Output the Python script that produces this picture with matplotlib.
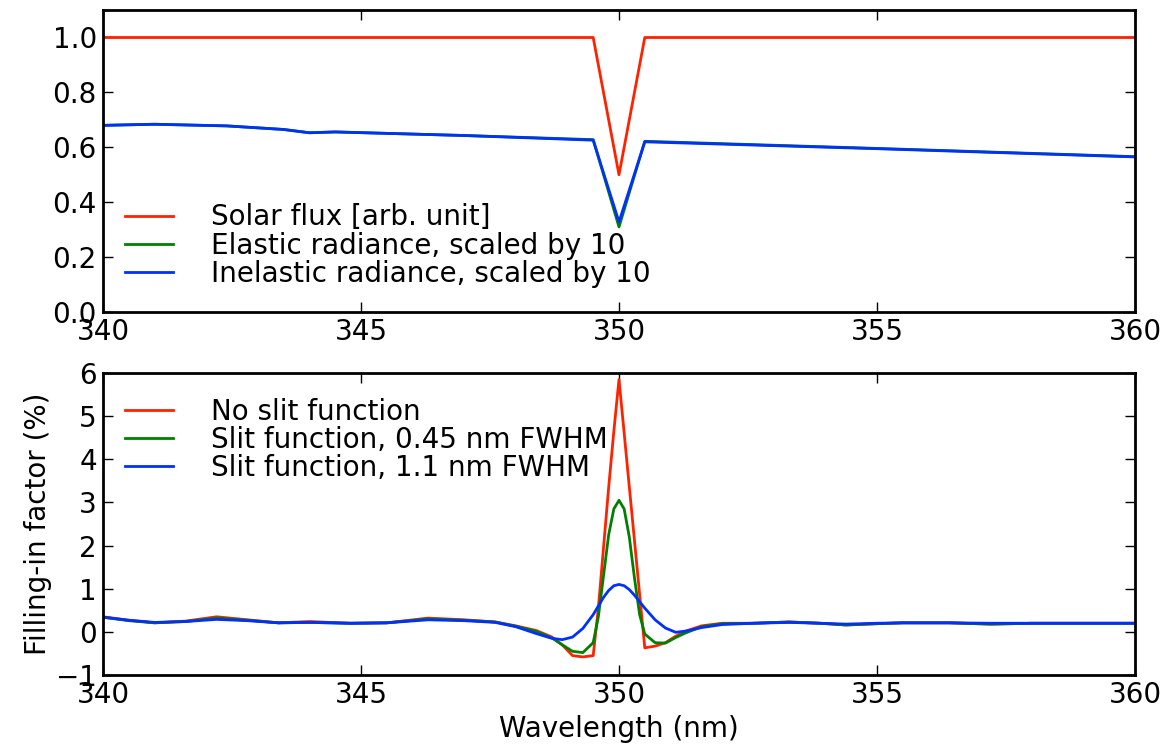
import matplotlib
matplotlib.use('Agg')
import matplotlib.pyplot as plt

# top panel: solar flux and radiances
wl_top = [340, 341, 342.4, 343.5, 344, 344.5, 347, 349.5, 350, 350.5, 355, 360]
solar = [1.0, 1.0, 1.0, 1.0, 1.0, 1.0, 1.0, 1.0, 0.5, 1.0, 1.0, 1.0]
elastic = [0.680, 0.684, 0.678, 0.665, 0.653, 0.656, 0.643, 0.628, 0.310, 0.622, 0.596, 0.566]
inelastic = [0.680, 0.684, 0.678, 0.665, 0.653, 0.656, 0.643, 0.626, 0.328, 0.620, 0.595, 0.565]

# bottom panel: filling-in factor (%)
wl_bot = [340, 340.5, 341, 341.6, 342.2, 342.8, 343.4, 344, 344.8, 345.5,
          346.3, 347, 347.6, 348, 348.4, 348.7, 348.9, 349.1, 349.3, 349.5,
          349.6, 349.7, 349.8, 349.9, 350, 350.1, 350.2, 350.3, 350.4, 350.5,
          350.7, 350.9, 351.1, 351.3, 351.6, 352, 352.6, 353.3, 353.9, 354.4,
          355, 355.5, 356.4, 357.2, 358, 359, 360]
no_slit = [0.35, 0.27, 0.21, 0.25, 0.35, 0.28, 0.21, 0.24, 0.20, 0.21,
           0.32, 0.28, 0.23, 0.14, 0.03, -0.12, -0.30, -0.55, -0.58, -0.55,
           0.55, 1.95, 3.35, 4.65, 5.85, 4.61, 3.36, 2.12, 0.87, -0.37,
           -0.33, -0.25, -0.10, 0.02, 0.14, 0.20, 0.20, 0.23, 0.20, 0.16,
           0.19, 0.21, 0.21, 0.18, 0.20, 0.20, 0.20]
slit_045 = [0.34, 0.26, 0.21, 0.24, 0.32, 0.27, 0.21, 0.22, 0.20, 0.21,
            0.30, 0.27, 0.23, 0.13, 0.01, -0.14, -0.30, -0.45, -0.48, -0.25,
            0.35, 1.30, 2.25, 2.85, 3.05, 2.85, 2.20, 1.25, 0.40, -0.05,
            -0.25, -0.26, -0.13, -0.02, 0.12, 0.19, 0.20, 0.23, 0.20, 0.16,
            0.19, 0.21, 0.21, 0.18, 0.20, 0.20, 0.20]
slit_11 = [0.34, 0.27, 0.22, 0.24, 0.29, 0.26, 0.21, 0.22, 0.20, 0.21,
           0.28, 0.26, 0.22, 0.12, -0.04, -0.15, -0.18, -0.12, 0.08, 0.40,
           0.60, 0.80, 0.96, 1.07, 1.10, 1.07, 0.98, 0.85, 0.70, 0.55,
           0.28, 0.09, -0.01, 0.02, 0.10, 0.17, 0.20, 0.22, 0.20, 0.18,
           0.20, 0.21, 0.21, 0.20, 0.20, 0.20, 0.20]

red = '#ff2200'
green = '#008000'
blue = '#0030ff'
fs = 20
lw = 2.0

fig = plt.figure(figsize=(11.76, 7.44), dpi=100)
ax1 = fig.add_axes([0.0876, 0.5806, 0.8775, 0.4059])
ax2 = fig.add_axes([0.0876, 0.0927, 0.8775, 0.4059])

ax1.plot(wl_top, solar, color=red, lw=lw, label='Solar flux [arb. unit]')
ax1.plot(wl_top, elastic, color=green, lw=lw, label='Elastic radiance, scaled by 10')
ax1.plot(wl_top, inelastic, color=blue, lw=lw, label='Inelastic radiance, scaled by 10')
ax1.set_xlim(340, 360)
ax1.set_ylim(0, 1.1)
ax1.set_yticks([0.0, 0.2, 0.4, 0.6, 0.8, 1.0])

ax2.plot(wl_bot, no_slit, color=red, lw=lw, label='No slit function')
ax2.plot(wl_bot, slit_045, color=green, lw=lw, label='Slit function, 0.45 nm FWHM')
ax2.plot(wl_bot, slit_11, color=blue, lw=lw, label='Slit function, 1.1 nm FWHM')
ax2.set_xlim(340, 360)
ax2.set_ylim(-1, 6)
ax2.set_yticks(range(-1, 7))
ax2.set_xlabel('Wavelength (nm)', fontsize=fs, labelpad=4)
ax2.set_ylabel('Filling-in factor (%)', fontsize=fs, labelpad=3)

for ax in (ax1, ax2):
    ax.set_xticks([340, 345, 350, 355, 360])
    ax.tick_params(direction='in', length=7, width=1, labelsize=fs, pad=4.5,
                   top=True, right=True)
    for sp in ax.spines.values():
        sp.set_linewidth(2)

leg_kw = dict(frameon=False, fontsize=fs, handlelength=1.75, handletextpad=1.35,
              labelspacing=0.01, borderpad=0, borderaxespad=0, loc='upper left')
ax1.legend(bbox_to_anchor=(0.021, 0.36), **leg_kw)
ax2.legend(bbox_to_anchor=(0.021, 0.919), **leg_kw)

fig.savefig('out.png', dpi=100)
